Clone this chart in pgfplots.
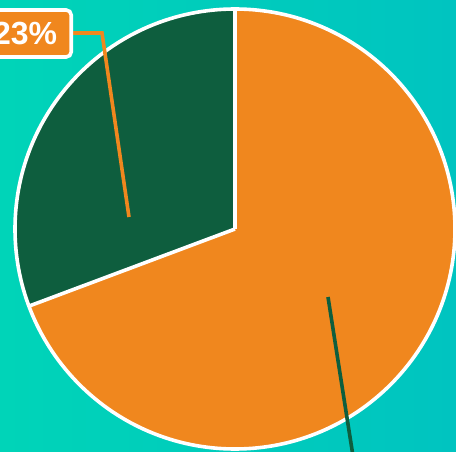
\documentclass[border=0pt]{standalone}
\usepackage{pgfplots}
\pgfplotsset{compat=1.18}
\usepackage{fontspec}
\setmainfont{Liberation Sans}
\definecolor{bgA}{RGB}{0,212,184}
\definecolor{bgB}{RGB}{0,196,192}
\definecolor{pieOrange}{RGB}{240,135,30}
\definecolor{pieGreen}{RGB}{14,94,62}
% slice shares (percent)
\def\greenShare{30.7}
\def\orangeShare{69.3}
\begin{document}
\begin{tikzpicture}
\pgfmathsetmacro{\aStart}{90}
\pgfmathsetmacro{\aMid}{90+\greenShare*3.6}
\pgfmathsetmacro{\aEnd}{\aMid+\orangeShare*3.6}
\begin{axis}[
  scale only axis, width=456pt, height=451pt,
  xmin=0, xmax=456, ymin=0, ymax=451,
  hide axis, clip=false]
\begin{scope}
\clip (axis cs:0,0) rectangle (axis cs:456,451);
\shade[left color=bgA, right color=bgB] (axis cs:0,0) rectangle (axis cs:456,451);
\fill[pieGreen] (axis cs:235,222) -- ++(\aStart:220pt) arc[start angle=\aStart, end angle=\aMid, radius=220pt] -- cycle;
\fill[pieOrange] (axis cs:235,222) -- ++(\aMid:220pt) arc[start angle=\aMid, end angle=\aEnd, radius=220pt] -- cycle;
\draw[white, line width=3.6pt] (axis cs:235,222) -- ++(\aStart:220pt);
\draw[white, line width=3.6pt] (axis cs:235,222) -- ++(\aMid:220pt);
\draw[white, line width=3.6pt] (axis cs:235,222) circle[radius=220pt];
\draw[pieOrange, line width=3.6pt] (axis cs:129,234) -- (axis cs:102,418) -- (axis cs:70,418);
\draw[pieGreen, line width=3.6pt] (axis cs:328,154) -- (axis cs:353,-5);
\node[anchor=east, fill=pieOrange, draw=white, line width=3.6pt, rounded corners=5pt,
  minimum height=47pt, inner xsep=14pt, text=white, font=\bfseries\fontsize{32}{32}\selectfont]
  at (axis cs:73,417.5) {23\%};
\end{scope}
\end{axis}
\pgfresetboundingbox
\useasboundingbox (0,0) rectangle (456pt,451pt);
\end{tikzpicture}
\end{document}
